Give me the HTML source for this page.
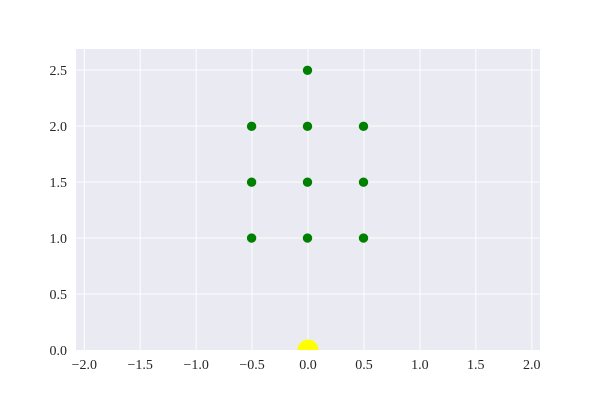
<!DOCTYPE html>
<html><head><style>body{margin:0;background:#fff}</style></head><body>
<svg width="600" height="400" xmlns="http://www.w3.org/2000/svg" font-family="'Liberation Serif', serif" font-size="14" fill="#262626">
<defs><clipPath id="c"><rect x="76" y="49" width="464" height="301"/></clipPath></defs>
<rect x="76" y="49" width="464" height="301" fill="#eaeaf2"/>
<g stroke="#fff" stroke-width="1">
<line x1="84.3" y1="49" x2="84.3" y2="350"/><line x1="140.2" y1="49" x2="140.2" y2="350"/><line x1="196.2" y1="49" x2="196.2" y2="350"/><line x1="252.1" y1="49" x2="252.1" y2="350"/><line x1="308" y1="49" x2="308" y2="350"/><line x1="364" y1="49" x2="364" y2="350"/><line x1="419.9" y1="49" x2="419.9" y2="350"/><line x1="475.8" y1="49" x2="475.8" y2="350"/><line x1="531.8" y1="49" x2="531.8" y2="350"/>
<line x1="76" y1="294" x2="540" y2="294"/><line x1="76" y1="238" x2="540" y2="238"/><line x1="76" y1="182" x2="540" y2="182"/><line x1="76" y1="126" x2="540" y2="126"/><line x1="76" y1="70" x2="540" y2="70"/>
</g>
<g clip-path="url(#c)"><circle cx="308" cy="350" r="10.5" fill="#ffff00"/></g>
<g fill="#008000">
<circle cx="307.5" cy="70.3" r="4.7"/>
<circle cx="251.6" cy="126.3" r="4.7"/><circle cx="307.5" cy="126.3" r="4.7"/><circle cx="363.5" cy="126.3" r="4.7"/>
<circle cx="251.6" cy="182.2" r="4.7"/><circle cx="307.5" cy="182.2" r="4.7"/><circle cx="363.5" cy="182.2" r="4.7"/>
<circle cx="251.6" cy="238.1" r="4.7"/><circle cx="307.5" cy="238.1" r="4.7"/><circle cx="363.5" cy="238.1" r="4.7"/>
</g>
<g text-anchor="middle">
<text x="84.3" y="369">−2.0</text><text x="140.2" y="369">−1.5</text><text x="196.2" y="369">−1.0</text><text x="252.1" y="369">−0.5</text><text x="308" y="369">0.0</text><text x="364" y="369">0.5</text><text x="419.9" y="369">1.0</text><text x="475.8" y="369">1.5</text><text x="531.8" y="369">2.0</text>
</g>
<g text-anchor="end">
<text x="67" y="355">0.0</text><text x="67" y="299">0.5</text><text x="67" y="243">1.0</text><text x="67" y="187">1.5</text><text x="67" y="131">2.0</text><text x="67" y="75">2.5</text>
</g>
</svg>
</body></html>
